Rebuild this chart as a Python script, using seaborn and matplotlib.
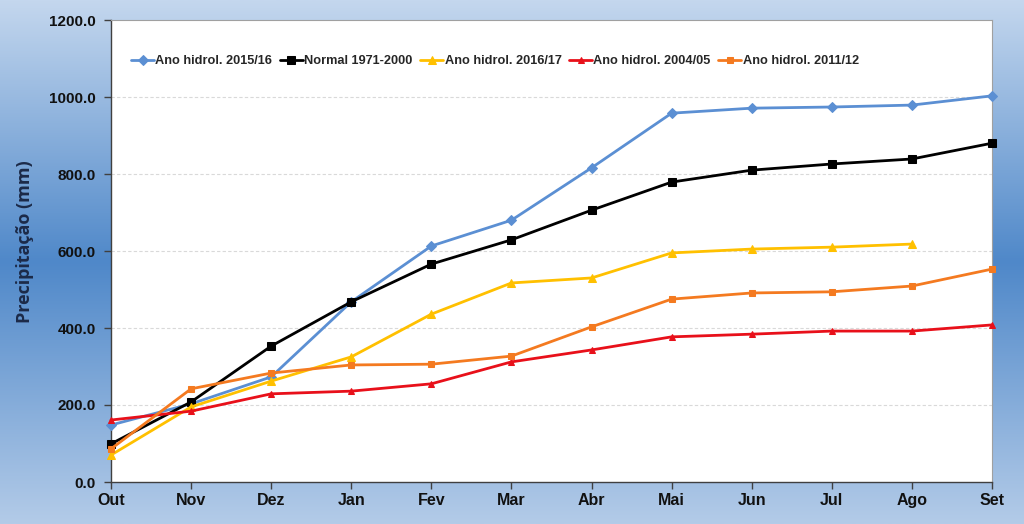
import numpy as np
import pandas as pd
import matplotlib
matplotlib.use("Agg")
import matplotlib.pyplot as plt
from matplotlib.colors import LinearSegmentedColormap
import seaborn as sns

months = ["Out", "Nov", "Dez", "Jan", "Fev", "Mar", "Abr", "Mai", "Jun", "Jul", "Ago", "Set"]
ano_2015_16 = [148, 203, 273, 468, 613, 680, 816, 958, 971, 974, 979, 1003]
normal_1971_2000 = [99, 208, 353, 468, 566, 629, 706, 779, 810, 826, 839, 880]
ano_2016_17 = [70, 195, 262, 325, 436, 517, 530, 595, 605, 610, 618, np.nan]
ano_2004_05 = [161, 184, 229, 236, 255, 312, 343, 377, 384, 392, 392, 408]
ano_2011_12 = [86, 242, 283, 304, 306, 327, 403, 475, 491, 494, 509, 553]
series_names = ["Ano hidrol. 2015/16", "Normal 1971-2000", "Ano hidrol. 2016/17",
                "Ano hidrol. 2004/05", "Ano hidrol. 2011/12"]
yticks = [0, 200, 400, 600, 800, 1000, 1200]

series_vals = [ano_2015_16, normal_1971_2000, ano_2016_17, ano_2004_05, ano_2011_12]
colors = ["#5b8fd3", "#000000", "#ffc000", "#e8101a", "#f47a20"]
markers = ["D", "s", "^", "^", "s"]
msizes = [5, 6, 6, 5, 5]

sns.set_style("white")
plt.rcParams["font.family"] = ["Liberation Sans", "DejaVu Sans"]

fig = plt.figure(figsize=(10.24, 5.24), dpi=100)

# background gradient
bg = fig.add_axes([0, 0, 1, 1], zorder=-10)
cmap = LinearSegmentedColormap.from_list(
    "bg", [(0.0, "#c4d7ee"), (0.5, "#4f88c9"), (1.0, "#b3cbe8")])
grad = np.linspace(0, 1, 256).reshape(-1, 1)
bg.imshow(grad, aspect="auto", cmap=cmap, extent=[0, 1, 0, 1], origin="upper")
bg.set_axis_off()

ax = fig.add_axes([111 / 1024, 1 - 482 / 524, (992 - 111) / 1024, (482 - 20) / 524])
ax.set_facecolor("white")

x = np.arange(len(months))
for name, vals, c, m, ms in zip(series_names, series_vals, colors, markers, msizes):
    df = pd.DataFrame({"x": x, "y": vals}).dropna()
    sns.lineplot(data=df, x="x", y="y", ax=ax, color=c, marker=m, markersize=ms,
                 markeredgecolor=c, linewidth=2, label=name, clip_on=False, zorder=3)

ax.set_xlim(0, len(months) - 1)
ax.set_ylim(0, 1200)
ax.set_xticks(x)
ax.set_xticklabels(months, fontsize=11.5, fontweight="bold", color="#111111")
ax.set_yticks(yticks)
ax.set_yticklabels([f"{v:.1f}" for v in yticks], fontsize=11, fontweight="bold", color="#111111")
ax.tick_params(axis="x", direction="out", length=5, width=1, color="#404040", pad=3, bottom=True)
ax.tick_params(axis="y", direction="out", length=5, width=1, color="#404040", pad=6, left=True)
ax.set_xlabel("")
ax.set_ylabel("Precipitação (mm)", fontsize=13, fontweight="bold", color="#1c2a48",
              family=["Open Sans", "Liberation Sans", "DejaVu Sans"])
ax.yaxis.set_label_coords(-0.087, 0.52)

for v in yticks[1:-1]:
    ax.axhline(v, color="#d9d9d9", lw=0.8, ls=(0, (3, 2)), zorder=1)

for s in ["left", "bottom"]:
    ax.spines[s].set_color("#404040")
    ax.spines[s].set_linewidth(1.0)
for s in ["top", "right"]:
    ax.spines[s].set_color("#a0a0a0")
    ax.spines[s].set_linewidth(0.8)

leg = ax.legend(loc="center left", bbox_to_anchor=(0.02, 0.911), ncol=5, frameon=False,
                handlelength=1.8, handletextpad=0.1, columnspacing=0.6,
                borderaxespad=0, borderpad=0.2,
                prop={"size": 9.2, "weight": "bold"})

fig.savefig("out.png", dpi=100)
